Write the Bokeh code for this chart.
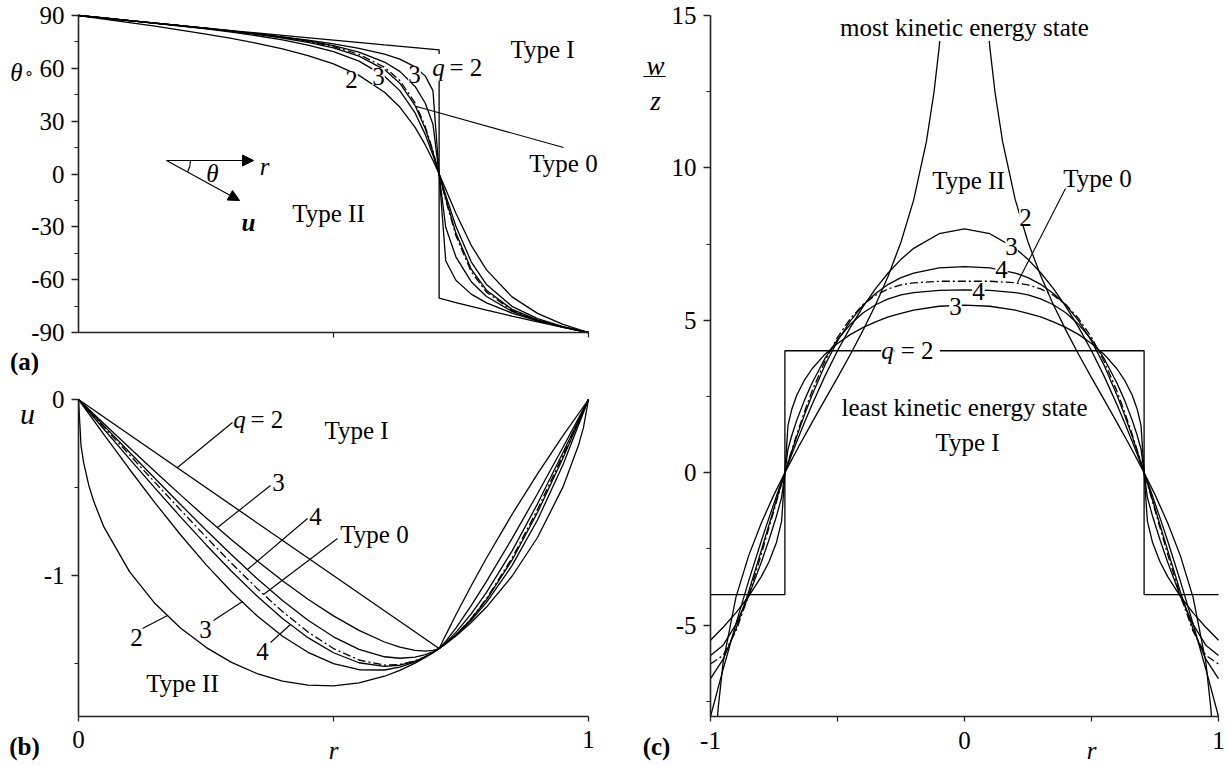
from bokeh.plotting import figure
from bokeh.layouts import row, column
from bokeh.models import Label, Arrow, NormalHead, FixedTicker, Range1d
from bokeh.embed import file_html
from bokeh.resources import INLINE

FONT = "Liberation Serif"
FS = "25px"

# ---------------- data ----------------
# panel (a): theta (deg) vs r ; panel (b): u vs r
r_ab = [0, .05, .1, .15, .2, .25, .3, .35, .4, .45, .5, .55, .6, .63, .66, .68, .695, .7071,
        .72, .74, .77, .8, .85, .9, .95, 1]

r_a_q2I = [0, .1, .2, .3, .4, .5, .6, .7071, .7071, .72, .74, .77, .8, .85, .9, .95, 1]
th_q2I = [90, 87.14, 84.29, 81.47, 78.69, 75.96, 73.30, 70.53, -70.53, -71.51, -73.00, -75.19,
          -77.32, -80.73, -83.97, -87.06, -90]
th_q3I = [90, 88.57, 87.13, 85.67, 84.20, 82.69, 81.14, 79.52, 77.80, 75.94, 73.84, 71.34, 68.02,
          65.19, 60.81, 55.57, 47.35, 0, -49.24, -60.31, -68.20, -73.16, -78.99, -83.36, -86.94, -90]
th_q4I = [90, 88.57, 87.13, 85.69, 84.24, 82.75, 81.20, 79.55, 77.71, 75.55, 72.86, 69.21, 63.58,
          58.27, 49.72, 40.19, 28.30, 0, -30.26, -47.01, -61.16, -69.56, -78.00, -83.22, -86.96, -90]
th_t0 = [90, 88.57, 87.14, 85.70, 84.26, 82.78, 81.24, 79.56, 77.66, 75.36, 72.34, 67.96, 60.58,
         53.08, 40.38, 26.89, 13.12, 0, -14.67, -35.01, -55.47, -67.08, -77.44, -83.15, -86.97, -90]
th_q4II = [90, 88.57, 87.13, 85.67, 84.19, 82.66, 81.03, 79.26, 77.23, 74.78, 71.58, 66.96, 59.30,
           51.59, 38.87, 25.65, 12.45, 0, -13.92, -33.57, -54.03, -66.00, -76.85, -82.88, -86.89, -90]
th_q3II = [90, 88.56, 87.11, 85.61, 84.04, 82.37, 80.55, 78.50, 76.12, 73.22, 69.44, 64.10, 55.56,
           47.35, 34.67, 22.36, 10.70, 0, -11.98, -29.63, -49.85, -62.78, -75.16, -82.15, -86.71, -90]
th_q2II = [90, 88.01, 85.99, 83.91, 81.75, 79.46, 76.98, 74.23, 71.06, 67.27, 62.49, 56.00, 46.40,
           38.00, 26.47, 16.50, 7.75, 0, -8.69, -22.27, -40.48, -54.46, -69.79, -79.16, -85.43, -90]

r_b_q2I = [0, .7071, .72, .74, .77, .8, .85, .9, .95, 1]
u_q2I = [0, -1.4142, -1.3378, -1.2227, -1.0574, -.9, -.6529, -.4222, -.2053, 0]
u_q3I = [0, -.1374, -.274, -.409, -.5416, -.6710, -.796, -.9158, -1.0289, -1.1339, -1.2289, -1.3112,
         -1.3771, -1.4063, -1.4247, -1.4287, -1.4251, -1.4142, -1.3741, -1.2981, -1.1703, -1.0329,
         -.7901, -.5353, -.2715, 0]
u_q4I = [0, -.1500, -.2997, -.4486, -.5961, -.7410, -.8819, -1.0162, -1.1412, -1.2532, -1.3475,
         -1.4188, -1.4609, -1.4693, -1.4628, -1.4490, -1.4326, -1.4142, -1.3821, -1.3225, -1.2173,
         -1.0957, -.8608, -.5924, -.3009, 0]
u_t0 = [0, -.1571, -.3141, -.4709, -.6267, -.7804, -.9302, -1.0726, -1.2044, -1.3203, -1.4142,
        -1.4793, -1.5081, -1.5048, -1.4842, -1.4603, -1.4368, -1.4142, -1.3866, -1.3363, -1.2438,
        -1.1310, -.9006, -.6245, -.3174, 0]
u_q4II = [0, -.1690, -.3370, -.5032, -.6662, -.8244, -.9755, -1.1163, -1.2435, -1.3525, -1.4382,
          -1.4948, -1.5159, -1.5090, -1.4859, -1.4609, -1.4369, -1.4142, -1.3867, -1.3371, -1.2466,
          -1.1369, -.9126, -.6412, -.3323, 0]
u_q3II = [0, -.1995, -.396, -.5865, -.768, -.9375, -1.092, -1.2285, -1.344, -1.4355, -1.5, -1.5345,
          -1.536, -1.5198, -1.49, -1.4623, -1.4372, -1.4142, -1.387, -1.3391, -1.2539, -1.152,
          -.9435, -.684, -.3705, 0]
r_b_q2II = [0, .005, .01, .02, .03, .05, .1, .15, .2, .25, .3, .35, .4, .45, .5, .55, .6, .63, .66,
            .68, .695, .7071, .72, .74, .77, .8, .85, .9, .95, .98, .99, 1]
u_q2II = [0, -.2636, -.3576, -.4853, -.5798, -.7250, -.9778, -1.1587, -1.2977, -1.4074, -1.4925,
          -1.5561, -1.5991, -1.6224, -1.6259, -1.6091, -1.5715, -1.5384, -1.4970, -1.4646, -1.4377,
          -1.4142, -1.3875, -1.3425, -1.2663, -1.1786, -1.0036, -.7836, -.4963, -.2630, -.1610, 0]

# panel (c): w/z vs r
r_c = [-1, -.95, -.9, -.85, -.8, -.77, -.74, -.72, -.7071, -.695, -.68, -.66, -.63, -.6, -.55, -.5,
       -.45, -.4, -.35, -.3, -.25, -.2, -.1, 0, .1, .2, .25, .3, .35, .4, .45, .5, .55, .6, .63, .66,
       .68, .695, .7071, .72, .74, .77, .8, .85, .9, .95, 1]
r_c_q2I = [-1, -.7071, -.7071, .7071, .7071, 1]
w_q2I = [-4, -4, 4, 4, -4, -4]
w_q3I = [-5.50, -5.07, -4.60, -4.06, -3.41, -2.93, -2.28, -1.59, 0, 1.55, 2.08, 2.55, 3.04, 3.41,
         3.88, 4.24, 4.53, 4.76, 4.95, 5.11, 5.23, 5.33, 5.46, 5.50, 5.46, 5.33, 5.23, 5.11, 4.95,
         4.76, 4.53, 4.24, 3.88, 3.41, 3.04, 2.55, 2.08, 1.55, 0, -1.59, -2.28, -2.93, -3.41, -4.06,
         -4.60, -5.07, -5.50]
w_q4I = [-6.00, -5.66, -4.98, -4.05, -2.94, -2.21, -1.42, -0.81, 0, 0.77, 1.22, 1.73, 2.38, 2.94,
         3.74, 4.37, 4.86, 5.24, 5.51, 5.70, 5.83, 5.91, 5.98, 6.00, 5.98, 5.91, 5.83, 5.70, 5.51,
         5.24, 4.86, 4.37, 3.74, 2.94, 2.38, 1.73, 1.22, 0.77, 0, -0.81, -1.42, -2.21, -2.94, -4.05,
         -4.98, -5.66, -6.00]
w_t0 = [-6.28, -5.99, -5.20, -4.04, -2.68, -1.81, -0.94, -0.36, 0, 0.34, 0.74, 1.26, 2.00, 2.68,
        3.65, 4.44, 5.05, 5.51, 5.82, 6.03, 6.16, 6.23, 6.28, 6.28, 6.28, 6.23, 6.16, 6.03, 5.82,
        5.51, 5.05, 4.44, 3.65, 2.68, 2.00, 1.26, 0.74, 0.34, 0, -0.36, -0.94, -1.81, -2.68, -4.04,
        -5.20, -5.99, -6.28]
w_q4II = [-6.76, -6.12, -5.13, -3.91, -2.55, -1.72, -0.89, -0.34, 0, 0.32, 0.70, 1.20, 1.90, 2.55,
          3.52, 4.32, 4.97, 5.49, 5.88, 6.18, 6.40, 6.55, 6.72, 6.76, 6.72, 6.55, 6.40, 6.18, 5.88,
          5.49, 4.97, 4.32, 3.52, 2.55, 1.90, 1.20, 0.70, 0.32, 0, -0.34, -0.89, -1.72, -2.55,
          -3.91, -5.13, -6.12, -6.76]
w_q3II = [-8.00, -6.44, -4.96, -3.56, -2.24, -1.49, -0.76, -0.29, 0, 0.27, 0.60, 1.03, 1.65, 2.24,
          3.16, 4.00, 4.76, 5.44, 6.04, 6.56, 7.00, 7.36, 7.84, 8.00, 7.84, 7.36, 7.00, 6.56, 6.04,
          5.44, 4.76, 4.00, 3.16, 2.24, 1.65, 1.03, 0.60, 0.27, 0, -0.29, -0.76, -1.49, -2.24,
          -3.56, -4.96, -6.44, -8.00]
r_c_q2II_left = [-.972, -.97, -.95, -.9, -.85, -.8, -.75, -.7071, -.65, -.6, -.55, -.5, -.45, -.4,
                 -.35, -.3, -.25, -.2, -.15, -.12, -.1, -.0885]
w_q2II_left = [-8.0, -7.74, -6.21, -4.09, -2.73, -1.65, -0.72, 0, 0.90, 1.65, 2.39, 3.12, 3.87,
               4.66, 5.51, 6.46, 7.57, 8.95, 10.86, 12.49, 13.94, 15.0]
r_c_q2II_right = [.0885, .1, .12, .15, .2, .25, .3, .35, .4, .45, .5, .55, .6, .65, .7071, .75,
                  .8, .85, .9, .95, .97, .972]
w_q2II_right = [15.0, 13.94, 12.49, 10.86, 8.95, 7.57, 6.46, 5.51, 4.66, 3.87, 3.12, 2.39,
                1.65, 0.90, 0, -0.72, -1.65, -2.73, -4.09, -6.21, -7.74, -8.0]

# ticks and tick labels
a_yticks = [-90, -60, -30, 0, 30, 60, 90]
a_yminor = [-75, -45, -15, 15, 45, 75]
a_xminor = [0.5, 1]
b_xticks = [0, 1]
b_xminor = [0.5]
b_yticks = [-1, 0]
b_yminor = [-1.5, -0.5]
c_xticks = [-1, 0, 1]
c_xminor = [-0.5, 0.5]
c_yticks = [-5, 0, 5, 10, 15]
c_yminor = [-7.5, -2.5, 2.5, 7.5, 12.5]
neg_labels = {-90: "-90", -60: "-60", -30: "-30", -1: "-1", -5: "-5"}

DASHDOT = "8 3 2 3"
LW = 1.3


def make_fig(xr, yr, w, h, xloc, yloc, xb, yb):
    p = figure(x_range=Range1d(*xr), y_range=Range1d(*yr), frame_width=w, frame_height=h,
               min_border=0, output_backend="svg", toolbar_location=None,
               outline_line_color=None, background_fill_color="white",
               border_fill_color="white")
    p.grid.visible = False
    p.yaxis.fixed_location = yloc
    p.xaxis.fixed_location = xloc
    p.xaxis.bounds = xb
    p.yaxis.bounds = yb
    for ax in p.axis:
        ax.axis_line_width = 1.6
        ax.axis_line_color = "#222222"
        ax.major_tick_line_color = "#222222"
        ax.minor_tick_line_color = "#222222"
        ax.major_tick_line_width = 1.3
        ax.minor_tick_line_width = 1.2
        ax.major_tick_in = 0
        ax.minor_tick_in = 0
        ax.major_label_text_font = FONT
        ax.major_label_text_font_size = FS
        ax.major_label_text_color = "black"
        ax.major_label_overrides = neg_labels
    p.xaxis.major_tick_out = 5
    p.xaxis.minor_tick_out = 5
    p.xaxis.major_label_standoff = 10
    p.yaxis.major_tick_out = 7
    p.yaxis.minor_tick_out = 4
    p.yaxis.major_label_standoff = 7
    return p


def lab(p, pos, text, size=FS, style="normal", align="center", baseline="middle", bg=False):
    kw = dict(x=pos[0], y=pos[1], text=text, text_font=FONT, text_font_size=size,
              text_font_style=style, text_align=align, text_baseline=baseline, text_color="black")
    if bg:
        kw.update(background_fill_color="white", background_fill_alpha=1.0)
    p.add_layout(Label(**kw))


def leader(p, P, a, b, head=None):
    xs, ys = P(*a)
    xe, ye = P(*b)
    p.add_layout(Arrow(end=head, x_start=xs, y_start=ys, x_end=xe, y_end=ye,
                       line_width=1.1, line_color="black"))


# reference-pixel -> data helpers (annotation placement only)
def PA(px, py):
    return (px - 78) / 510, 90 - (py - 15) * 180 / 317


def PB(px, py):
    return (px - 78) / 510, -(py - 399) / 176.1


def PC(px, py):
    return (px - 964) / 254, 15 - (py - 15) * 23 / 701


SPLIT = 380  # page y where panel (b) starts

# ---------------- panel (a) ----------------
pa = make_fig((PA(0, 0)[0], PA(620, 0)[0]), (PA(0, SPLIT)[1], PA(0, 0)[1]), 620, SPLIT,
              -90, 0, (0, 1), (-90, 90))
pa.yaxis.ticker = FixedTicker(ticks=a_yticks, minor_ticks=a_yminor)
pa.xaxis.ticker = FixedTicker(ticks=[], minor_ticks=a_xminor)

pa.line(r_a_q2I, th_q2I, line_color="black", line_width=LW)
for ys in (th_q3I, th_q4I, th_q4II, th_q3II, th_q2II):
    pa.line(r_ab, ys, line_color="black", line_width=LW)
pa.line(r_ab, th_t0, line_color="black", line_width=LW, line_dash=DASHDOT)

lab(pa, PA(16, 72), "θ", style="italic")
lab(pa, PA(28, 73), "∘", size="16px")
lab(pa, PA(24, 361), "(a)", style="bold")
lab(pa, PA(438, 67), "q", style="italic", bg=True)
lab(pa, PA(449, 67), "= 2", align="left")
lab(pa, PA(542, 49), "Type I")
lab(pa, PA(563, 163), "Type 0")
lab(pa, PA(328, 213), "Type II")
lab(pa, PA(351, 79), "2", bg=True)
lab(pa, PA(378, 76), "3", bg=True)
lab(pa, PA(414, 74), "3", bg=True)
leader(pa, PA, (416, 106), (563, 147))
# inset sketch
head1 = NormalHead(size=11, fill_color="black", line_color="black", line_width=1)
head2 = NormalHead(size=11, fill_color="black", line_color="black", line_width=1)
leader(pa, PA, (166, 160), (253, 160), head=head1)
leader(pa, PA, (166, 160), (239, 200), head=head2)
ox, oy = PA(166, 160)
pa.arc(x=[ox], y=[oy], radius=24, radius_units="screen", start_angle=-0.5, end_angle=0.0,
       line_color="black", line_width=1.1)
lab(pa, PA(264, 166), "r", style="italic", baseline="alphabetic")
lab(pa, PA(212, 173), "θ", style="italic")
lab(pa, PA(248, 222), "u", style="bold italic", baseline="alphabetic")

# ---------------- panel (b) ----------------
pb = make_fig((PB(0, 0)[0], PB(620, 0)[0]), (PB(0, 764)[1], PB(0, SPLIT)[1]), 620, 764 - SPLIT,
              -1.8, 0, (0, 1), (-1.8, 0))
pb.yaxis.ticker = FixedTicker(ticks=b_yticks, minor_ticks=b_yminor)
pb.xaxis.ticker = FixedTicker(ticks=b_xticks, minor_ticks=b_xminor)

pb.line(r_b_q2I, u_q2I, line_color="black", line_width=LW)
for ys in (u_q3I, u_q4I, u_q4II, u_q3II):
    pb.line(r_ab, ys, line_color="black", line_width=LW)
pb.line(r_b_q2II, u_q2II, line_color="black", line_width=LW)
pb.line(r_ab, u_t0, line_color="black", line_width=LW, line_dash=DASHDOT)

lab(pb, PB(27, 413), "u", size="30px", style="italic", baseline="alphabetic")
lab(pb, PB(24, 746), "(b)", style="bold")
lab(pb, PB(333, 750), "r", style="italic", baseline="alphabetic")
lab(pb, PB(239, 419), "q", style="italic")
lab(pb, PB(250, 419), "= 2", align="left")
lab(pb, PB(356, 430), "Type I")
lab(pb, PB(278, 482), "3")
lab(pb, PB(315, 516), "4")
lab(pb, PB(374, 534), "Type 0")
lab(pb, PB(205, 629), "3")
lab(pb, PB(262, 651), "4")
lab(pb, PB(136, 637), "2")
lab(pb, PB(182, 683), "Type II")
leader(pb, PB, (177, 467), (232, 422))
leader(pb, PB, (217, 527), (270, 485))
leader(pb, PB, (247, 569), (307, 518))
leader(pb, PB, (263, 594), (337, 538))
leader(pb, PB, (242, 601), (213, 620))
leader(pb, PB, (290, 624), (270, 642))
leader(pb, PB, (167, 615), (142, 628))

# ---------------- panel (c) ----------------
pc = make_fig((PC(620, 0)[0], PC(1226, 0)[0]), (PC(0, 764)[1], PC(0, 0)[1]), 606, 764,
              -8, -1, (-1, 1), (-8, 15))
pc.yaxis.ticker = FixedTicker(ticks=c_yticks, minor_ticks=c_yminor)
pc.xaxis.ticker = FixedTicker(ticks=c_xticks, minor_ticks=c_xminor)

pc.line(r_c_q2I, w_q2I, line_color="black", line_width=LW)
for ys in (w_q3I, w_q4I, w_q4II, w_q3II):
    pc.line(r_c, ys, line_color="black", line_width=LW)
pc.multi_line([r_c_q2II_left, r_c_q2II_right], [w_q2II_left, w_q2II_right],
              line_color="black", line_width=LW)
pc.line(r_c, w_t0, line_color="black", line_width=LW, line_dash=DASHDOT)

lab(pc, PC(655, 65), "w", size="27px", style="italic", baseline="alphabetic")
lab(pc, PC(654, 74), "—", size="22px")
lab(pc, PC(655, 100), "z", size="27px", style="italic", baseline="alphabetic")
lab(pc, PC(656, 746), "(c)", style="bold")
lab(pc, PC(1091, 750), "r", style="italic", baseline="alphabetic")
lab(pc, PC(964, 27), "most kinetic energy state", bg=True)
lab(pc, PC(968, 180), "Type II")
lab(pc, PC(1097, 178), "Type 0")
leader(pc, PC, (1017, 282), (1065, 188))
lab(pc, PC(1025, 217), "2", bg=True)
lab(pc, PC(1011, 246), "3", bg=True)
lab(pc, PC(1001, 269), "4", bg=True)
lab(pc, PC(978, 291), "4", bg=True)
lab(pc, PC(955, 306), "3", bg=True)
lab(pc, PC(887, 350), "q", style="italic", bg=True)
lab(pc, PC(894, 350), "\u00a0= 2\u00a0", align="left", bg=True)
lab(pc, PC(964, 407), "least kinetic energy state")
lab(pc, PC(967, 442), "Type I")

layout = row(column(pa, pb), pc)
open("out.html", "w").write(file_html(layout, INLINE))
